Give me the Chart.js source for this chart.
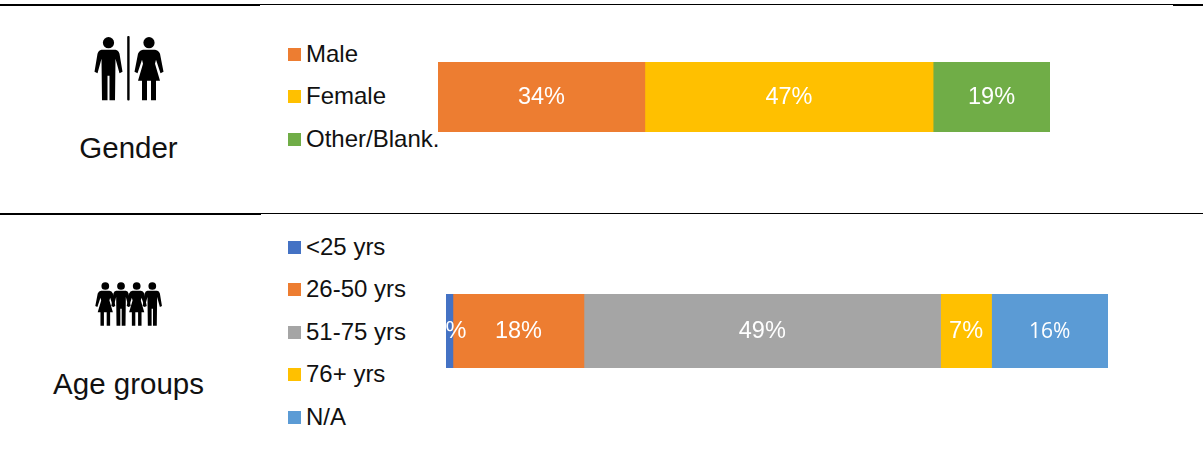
<!DOCTYPE html>
<html>
<head>
<meta charset="utf-8">
<title>Gender and age groups</title>
<script src="https://cdn.jsdelivr.net/npm/chart.js@4"></script>
<style>
    html, body { margin: 0; padding: 0; background: #fff; }
    body { position: relative; width: 1203px; height: 468px; overflow: hidden; font-family: "Liberation Sans", Arial, sans-serif; color: #111; }
    .rule { position: absolute; background: #000; }
    .title { position: absolute; transform: translateX(-50%); font-size: 29.5px; line-height: 34px; white-space: nowrap; }
    .legend-item { position: absolute; left: 288px; height: 26px; line-height: 26px; font-size: 24px; white-space: nowrap; }
    .legend-box { position: absolute; left: 0; top: 7px; width: 13px; height: 13px; }
    .legend-text { position: absolute; left: 18px; top: 0; }
    canvas { position: absolute; }
    svg { position: absolute; left: 0; top: 0; }
</style>
</head>
<body>

<div class="rule" style="left:0;top:4px;width:260px;height:2px"></div>
<div class="rule" style="left:260px;top:4px;width:913px;height:1px"></div>
<div class="rule" style="left:1173px;top:4px;width:30px;height:2px"></div>
<div class="rule" style="left:0;top:213px;width:261px;height:2px"></div>
<div class="rule" style="left:261px;top:213px;width:942px;height:1px"></div>

<!-- пиктограммы -->
<svg width="1203" height="468">
    <defs>
        <g id="man">
            <circle cx="0" cy="0" r="5.6"/>
            <path d="M-7,7 L7,7 Q10,7.5 11,11 L14,29 L11,30.5 L7,16 L6.5,57.5 L1,57.5 L1,33 L-1,33 L-1,57.5 L-6.5,57.5 L-7,16 L-11,30.5 L-14,29 L-11,11 Q-10,7.5 -7,7 Z"/>
        </g>
        <g id="woman">
            <circle cx="0" cy="0" r="5.6"/>
            <path d="M-6,7 L6,7 Q9.5,7.5 11,11 L14.5,29 L11.5,30.5 L7,17 L6,21 L11,38 L7,38 L7,57.5 L2,57.5 L2,38 L-2,38 L-2,57.5 L-7,57.5 L-7,38 L-11,38 L-6,21 L-7,17 L-11.5,30.5 L-14.5,29 L-11,11 Q-9.5,7.5 -6,7 Z"/>
        </g>
    </defs>
    <use href="#man" x="108.5" y="42.7"/>
    <rect x="127.2" y="36" width="2.4" height="64.5" rx="1"/>
    <use href="#woman" x="149" y="42.7"/>
    <use href="#woman" transform="translate(105.3,286) scale(.69)"/>
    <use href="#man" transform="translate(121,286) scale(.69)"/>
    <use href="#woman" transform="translate(136.7,286) scale(.69)"/>
    <use href="#man" transform="translate(152.3,286) scale(.69)"/>
</svg>

<div class="title" style="left:128.5px;top:131px">Gender</div>
<div class="title" style="left:128.5px;top:367px">Age groups</div>

<div id="genderLegend"></div>
<div id="ageLegend"></div>

<canvas id="genderChart" width="652" height="70" style="left:418px;top:62px;width:652px;height:70px"></canvas>
<canvas id="ageChart" width="702" height="74" style="left:426px;top:294px;width:702px;height:74px"></canvas>

<script>
// Данные (значения оценены по картинке, подписи округлены)
const genderLabels = ['Male', 'Female', 'Other/Blank.'];
const genderValues = [33.8, 47.1, 19.1];
const genderColors = ['#ED7D31', '#FFC000', '#70AD47'];

const ageLabels = ['<25 yrs', '26-50 yrs', '51-75 yrs', '76+ yrs', 'N/A'];
const ageValues = [0.95, 18, 49, 7, 16];
const ageColors = ['#4472C4', '#ED7D31', '#A5A5A5', '#FFC000', '#5B9BD5'];

const ARIAL = '"Liberation Sans", Arial, sans-serif';
const LABEL_FONT = '23.5px ' + ARIAL;
const LAST_LABEL_FONT = '21px "Open Sans", sans-serif';

// Подписи процентов внутри сегментов
const percentLabelPlugin = {
    id: 'percentLabels',
    afterDatasetsDraw(chart) {
        const ctx = chart.ctx;
        ctx.save();
        ctx.fillStyle = '#fff';
        ctx.textAlign = 'center';
        ctx.textBaseline = 'middle';
        chart.data.datasets.forEach((ds, i) => {
            const bar = chart.getDatasetMeta(i).data[0];
            ctx.font = ds.labelFont || LABEL_FONT;
            ctx.fillText(Math.round(ds.data[0]) + '%', (bar.base + bar.x) / 2, bar.y + 1);
        });
        ctx.restore();
    }
};

function buildLegend(containerId, labels, colors, firstCenter, step) {
    const container = document.getElementById(containerId);
    labels.forEach((label, i) => {
        const item = document.createElement('div');
        item.classList.add('legend-item');
        item.style.top = (firstCenter + i * step - 14) + 'px';

        const box = document.createElement('span');
        box.classList.add('legend-box');
        box.style.background = colors[i];

        const text = document.createElement('span');
        text.classList.add('legend-text');
        text.textContent = label;

        item.appendChild(box);
        item.appendChild(text);
        container.appendChild(item);
    });
}

function buildStackedBar(canvasId, labels, values, colors, lastFont) {
    const total = values.reduce((a, b) => a + b, 0);
    return new Chart(document.getElementById(canvasId), {
        type: 'bar',
        data: {
            labels: [''],
            datasets: labels.map((label, i) => ({
                label: label,
                data: [values[i]],
                backgroundColor: colors[i],
                borderWidth: 0,
                barPercentage: 1,
                categoryPercentage: 1,
                labelFont: (lastFont && i === labels.length - 1) ? lastFont : null
            }))
        },
        options: {
            indexAxis: 'y',
            responsive: false,
            animation: false,
            layout: { padding: { left: 20, right: 20, top: 0, bottom: 0 } },
            scales: {
                x: { stacked: true, display: false, min: 0, max: total },
                y: { stacked: true, display: false }
            },
            plugins: {
                legend: { display: false },
                tooltip: { enabled: false }
            }
        },
        plugins: [percentLabelPlugin]
    });
}

buildLegend('genderLegend', genderLabels, genderColors, 54.5, 42.5);
buildLegend('ageLegend', ageLabels, ageColors, 247.5, 42.5);

window.genderChart = buildStackedBar('genderChart', genderLabels, genderValues, genderColors);
window.ageChart = buildStackedBar('ageChart', ageLabels, ageValues, ageColors, LAST_LABEL_FONT);
</script>
</body>
</html>
